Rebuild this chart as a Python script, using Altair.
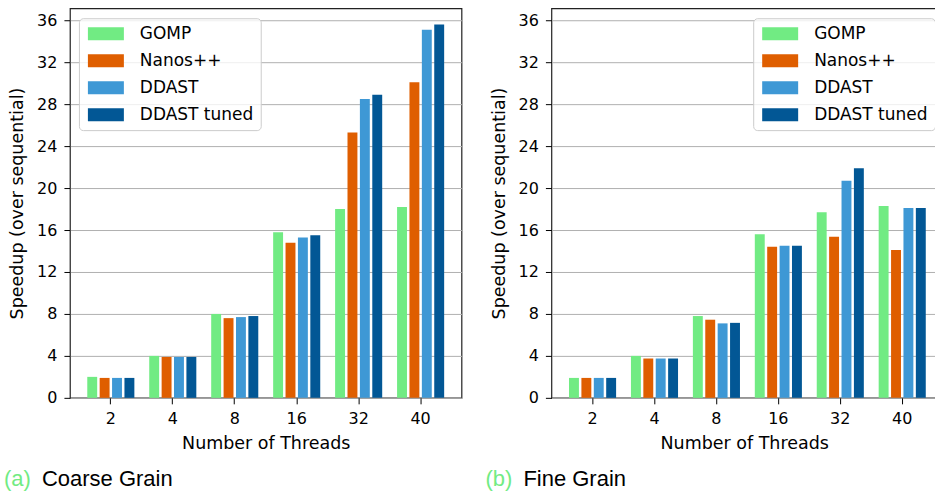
import altair as alt
import pandas as pd

threads = ["2", "4", "8", "16", "32", "40"]
series = ["GOMP", "Nanos++", "DDAST", "DDAST tuned"]
colors = ["#71EB83", "#DF5E00", "#3E98D5", "#025795"]

coarse_gomp = [2.0, 4.0, 8.0, 15.8, 18.0, 18.2]
coarse_nanos = [1.9, 3.9, 7.6, 14.8, 25.3, 30.1]
coarse_ddast = [1.9, 3.9, 7.7, 15.3, 28.5, 35.1]
coarse_tuned = [1.9, 3.9, 7.8, 15.5, 28.9, 35.6]

fine_gomp = [1.9, 4.0, 7.8, 15.6, 17.7, 18.3]
fine_nanos = [1.9, 3.75, 7.45, 14.4, 15.35, 14.1]
fine_ddast = [1.9, 3.75, 7.1, 14.5, 20.7, 18.1]
fine_tuned = [1.9, 3.75, 7.15, 14.5, 21.9, 18.1]

y_ticks = [0, 4, 8, 12, 16, 20, 24, 28, 32, 36]
y_title = "Speedup (over sequential)"
x_title = "Number of Threads"
cap_a = ["(a)", "Coarse Grain"]
cap_b = ["(b)", "Fine Grain"]

FONT = "DejaVu Sans"
CAP_FONT = "Liberation Sans"


def long_df(vals):
    rows = []
    for s, v in zip(series, vals):
        for t, y in zip(threads, v):
            rows.append({"threads": t, "series": s, "speedup": y})
    return pd.DataFrame(rows)


def panel(vals, cap, legend_x, width, pad_outer, align):
    df = long_df(vals)
    bars = alt.Chart(df).mark_bar().encode(
        x=alt.X("threads:N", sort=threads, title=x_title,
                scale=alt.Scale(paddingInner=0.24, paddingOuter=pad_outer, align=align),
                axis=alt.Axis(labelAngle=0, labelFontSize=16, titleFontSize=17.5,
                              labelPadding=7, titlePadding=8, tickSize=6,
                              tickColor="#000", labelColor="#000", titleColor="#000",
                              domain=False, labelFont=FONT, titleFont=FONT,
                              titleFontWeight="normal")),
        xOffset=alt.XOffset("series:N", sort=series,
                            scale=alt.Scale(paddingInner=0.2, paddingOuter=0)),
        y=alt.Y("speedup:Q", title=y_title,
                scale=alt.Scale(domain=[0, 37.15], nice=False),
                axis=alt.Axis(values=y_ticks, labelFontSize=16, titleFontSize=17.5,
                              labelPadding=7, titlePadding=10, tickSize=6,
                              tickColor="#000", labelColor="#000", titleColor="#000",
                              domain=False, grid=True, gridColor="#b0b0b0",
                              gridWidth=1, labelFont=FONT, titleFont=FONT,
                              titleFontWeight="normal")),
        color=alt.Color("series:N", sort=series,
                        scale=alt.Scale(domain=series, range=colors),
                        legend=alt.Legend(title=None, orient="none",
                                          legendX=legend_x, legendY=10,
                                          symbolType="M-1,-1H4.54V1H-1Z",
                                          symbolSize=169, symbolStrokeWidth=0,
                                          symbolOpacity=1,
                                          labelOffset=37, labelFontSize=17,
                                          labelFont=FONT, labelColor="#000",
                                          rowPadding=9, padding=7,
                                          fillColor="rgba(255,255,255,0.8)",
                                          strokeColor="#cccccc",
                                          cornerRadius=4)),
    )
    c1 = alt.Chart(pd.DataFrame({"t": [cap[0]]})).mark_text(
        align="left", baseline="alphabetic", font=CAP_FONT, fontSize=22,
        color="#71EB83").encode(text="t:N", x=alt.value(-66), y=alt.value(478))
    c2 = alt.Chart(pd.DataFrame({"t": [cap[1]]})).mark_text(
        align="left", baseline="alphabetic", font=CAP_FONT, fontSize=22,
        color="#000").encode(text="t:N", x=alt.value(-28), y=alt.value(478))
    return alt.layer(bars, c1, c2).properties(width=width, height=390)


left = panel([coarse_gomp, coarse_nanos, coarse_ddast, coarse_tuned], cap_a,
             9, 392, 0.28, 0.5)
right = panel([fine_gomp, fine_nanos, fine_ddast, fine_tuned], cap_b,
              202, 386, 0.233, 0.61)

chart = alt.hconcat(left, right, spacing=90, bounds="flush").resolve_scale(
    color="independent", x="independent", y="independent"
).resolve_legend(color="independent").properties(
    padding={"left": 3, "top": 7, "right": -3, "bottom": 0},
    background="white",
).configure_view(stroke="#222", strokeWidth=1.2)

chart.save("out.html", embed_options={"renderer": "svg", "actions": False})
